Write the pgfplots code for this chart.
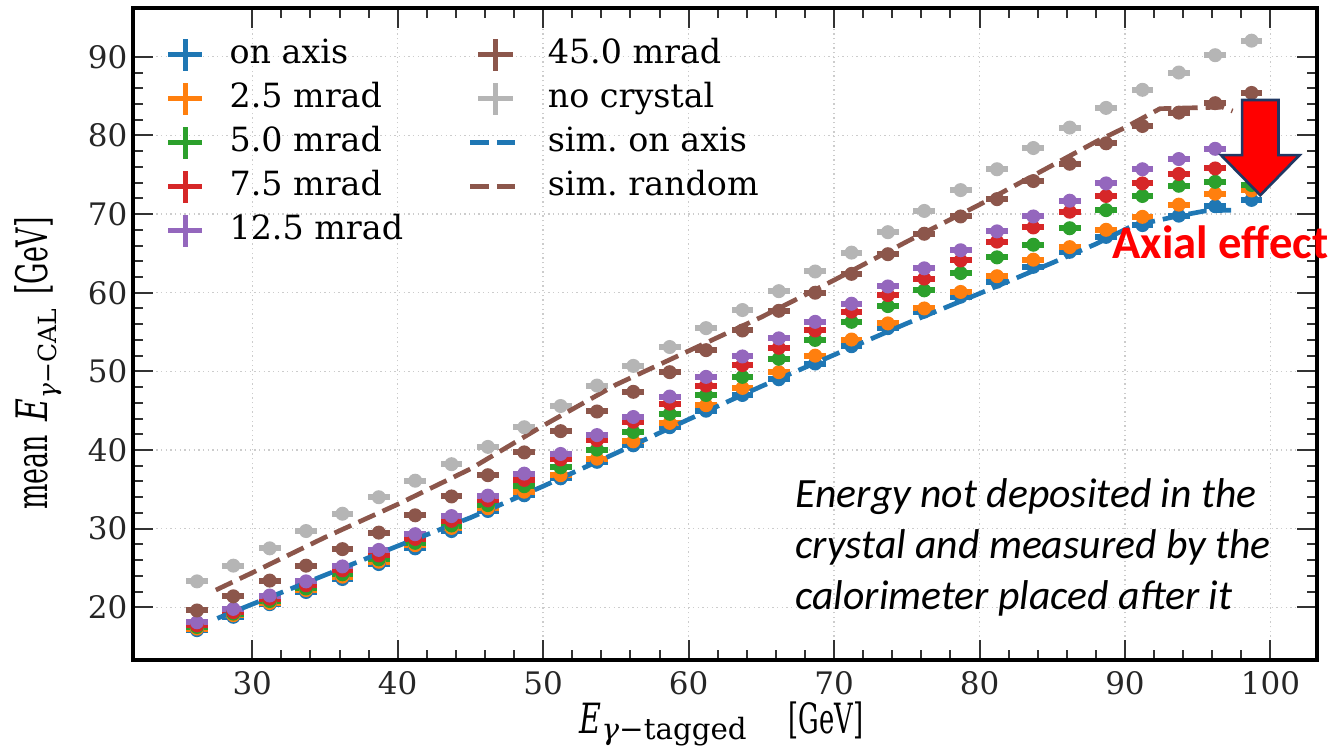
\documentclass[border=0pt]{standalone}
\usepackage{fontspec}
\setmainfont{DejaVu Serif}
\newfontfamily\calibri{Carlito}
\usepackage{graphicx}
\usepackage{pgfplots}
\usepackage{pgfplotstable}
\pgfplotsset{compat=1.18}

\definecolor{tBlue}{HTML}{1F77B4}
\definecolor{tOrange}{HTML}{FF7F0E}
\definecolor{tGreen}{HTML}{2CA02C}
\definecolor{tRed}{HTML}{D62728}
\definecolor{tPurple}{HTML}{9467BD}
\definecolor{tBrown}{HTML}{8C564B}
\definecolor{tGray}{HTML}{B5B5B5}
\definecolor{navy}{HTML}{203864}

\newcommand{\sq}[1]{\scalebox{0.62}[1]{#1}}

% x: E_tagged, then mean E_CAL for each setting
\pgfplotstableread{
x    ax    m25   m50   m75   m125  m450  nocr
26.2 17.1  17.3  17.5  17.7  18.1  19.6  23.3
28.7 18.8  19.0  19.2  19.4  19.8  21.4  25.3
31.2 20.4  20.55 20.8  21.1  21.5  23.4  27.5
33.7 21.95 22.2  22.4  22.8  23.3  25.3  29.7
36.2 23.6  23.9  24.2  24.7  25.2  27.4  31.9
38.7 25.5  25.8  26.1  26.6  27.3  29.5  34.0
41.2 27.5  27.9  28.2  28.7  29.3  31.7  36.1
43.7 29.7  30.1  30.4  31.0  31.6  34.1  38.2
46.2 32.25 32.6  33.0  33.6  34.2  36.8  40.4
48.7 34.25 34.7  35.4  36.2  37.0  39.7  42.9
51.2 36.4  36.8  37.8  38.8  39.5  42.4  45.6
53.7 38.5  38.9  40.06 41.25 41.9  44.9  48.2
56.2 40.6  41.1  42.3  43.6  44.2  47.4  50.7
58.7 42.9  43.45 44.6  45.9  46.8  49.9  53.1
61.2 45.0  45.7  47.0  48.2  49.3  52.7  55.5
63.7 47.0  47.9  49.3  50.8  51.9  55.2  57.8
66.2 49.0  49.9  51.6  53.0  54.2  57.7  60.2
68.7 51.0  52.0  54.0  55.2  56.3  60.0  62.7
71.2 53.2  54.05 56.3  57.6  58.6  62.4  65.1
73.7 55.5  56.1  58.3  59.7  60.8  64.9  67.7
76.2 57.6  58.0  60.3  61.8  63.1  67.5  70.4
78.7 59.5  60.1  62.5  64.1  65.4  69.7  73.05
81.2 61.4  62.1  64.5  66.5  67.8  71.9  75.7
83.7 63.3  64.2  66.1  68.3  69.7  74.2  78.4
86.2 65.2  65.8  68.2  70.3  71.7  76.4  81.0
88.7 67.1  68.0  70.5  72.3  73.9  79.0  83.5
91.2 68.6  69.65 72.3  73.9  75.7  81.2  85.8
93.7 69.8  71.2  73.6  75.1  77.0  82.9  88.0
96.2 71.0  72.6  74.1  75.8  78.3  84.1  90.2
98.7 71.8  73.0  73.7  76.5  79.5  85.4  92.05
}\data

\pgfplotstableread{
x    y
27.6 18.6
30   20.4
35   24.1
40   27.8
45   31.4
50   35.4
55   39.6
60   43.9
65   48.1
70   52.1
75   56.1
80   59.9
85   63.8
88   66.2
90.5 68.5
93.5 69.7
95.5 70.4
97.3 70.5
}\simaxis

\pgfplotstableread{
x    y
27.5 22.2
30   24.4
35   28.9
40   33.1
45   37.6
50   43.1
55   48.3
60   52.6
65   56.9
70   61.6
75   66.5
80   71.2
85   76.2
88   79.2
90   81.0
92.4 83.4
94.4 83.5
96.7 83.6
97.4 83.1
}\simrand

\pgfplotsset{
  dat/.style={color=#1, only marks, mark=*, mark size=1.9pt,
    mark options={solid, fill=#1},
    error bars/x dir=both, error bars/x fixed=0.75,
    error bars/y dir=both, error bars/y fixed=0.7,
    error bars/error mark=none,
    error bars/error bar style={line width=1.8pt, #1},
    legend image code/.code={\draw[#1, line width=1.5pt] (2.4pt,0pt) -- (12.6pt,0pt) (7.5pt,-4.8pt) -- (7.5pt,4.8pt);}},
  sim/.style={color=#1, line width=1.4pt, dash pattern=on 5.5pt off 2.4pt, no markers,
    legend image code/.code={\draw[#1, line width=1.4pt, dash pattern=on 5.5pt off 2.4pt] (0pt,0pt) -- (15pt,0pt);}},
}

\begin{document}
\begin{tikzpicture}
\begin{axis}[
  width=355.2pt, height=195.6pt, scale only axis,
  xmin=21.8, xmax=103.2, ymin=13.3, ymax=96.2,
  xtick={30,40,...,100}, ytick={20,30,...,90}, minor tick num=4,
  tick align=inside, major tick length=6pt, minor tick length=3pt,
  every tick/.style={black!80, line width=0.6pt},
  axis line style={line width=1pt},
  grid=major, major grid style={densely dotted, gray!40, line width=0.4pt},
  ticklabel style={font=\fontsize{9.3}{10}\selectfont, color=black!85},
  /pgf/number format/assume math mode=true,
  yticklabel style={inner xsep=1.5pt},
  clip=false,
  xlabel={\scalebox{0.72}[1]{\textit{E}}\raisebox{-0.3ex}{\fontsize{8.8}{10}\selectfont\textit{γ}−tagged}\hspace{1em}\sq{[GeV]}},
  ylabel={\sq{mean} \scalebox{0.72}[1]{\textit{E}}\raisebox{-0.4ex}{\fontsize{7.5}{8}\selectfont\textit{γ}−CAL} \sq{[GeV]}},
  xlabel style={at={(axis description cs:0.497,-0.098)}, anchor=center, inner sep=0pt, font=\fontsize{12.5}{14}\selectfont},
  ylabel style={at={(axis description cs:-0.080,0.455)}, anchor=center, font=\fontsize{13}{14}\selectfont},
  legend columns=5, transpose legend,
  legend style={at={(axis description cs:0.027,0.963)}, anchor=north west,
    draw=none, fill=none, inner sep=0pt,
    font=\fontsize{10}{11}\selectfont, cells={anchor=west},
    nodes={inner xsep=7.5pt, inner ysep=2.1pt, text height=7pt, text depth=2pt},
    /tikz/every even column/.append style={column sep=12pt}},
]
\addplot[dat=tBlue] table[x=x, y=ax] {\data};
\addlegendentry{on axis}
\addplot[dat=tOrange] table[x=x, y=m25] {\data};
\addlegendentry{2.5 mrad}
\addplot[dat=tGreen] table[x=x, y=m50] {\data};
\addlegendentry{5.0 mrad}
\addplot[dat=tRed] table[x=x, y=m75] {\data};
\addlegendentry{7.5 mrad}
\addplot[dat=tPurple] table[x=x, y=m125] {\data};
\addlegendentry{12.5 mrad}
\addplot[dat=tBrown] table[x=x, y=m450] {\data};
\addlegendentry{45.0 mrad}
\addplot[dat=tGray] table[x=x, y=nocr] {\data};
\addlegendentry{no crystal}
\addplot[sim=tBlue] table {\simaxis};
\addlegendentry{sim.\ on axis}
\addplot[sim=tBrown] table {\simrand};
\addlegendentry{sim.\ random}

\coordinate (a1) at (axis cs:98.05,84.5);
\coordinate (a2) at (axis cs:100.55,84.5);
\coordinate (a3) at (axis cs:100.55,77.5);
\coordinate (a4) at (axis cs:102.0,77.5);
\coordinate (a5) at (axis cs:99.3,72.4);
\coordinate (a6) at (axis cs:96.6,77.5);
\coordinate (a7) at (axis cs:98.05,77.5);
\coordinate (axtxt) at (axis cs:89.1,64.4);
\coordinate (entxt) at (axis cs:67.3,36.4);
\coordinate (bbsw) at (rel axis cs:-0.1123,-0.1304);
\coordinate (bbne) at (rel axis cs:1.0169,1.0123);
\end{axis}
\filldraw[fill=red, draw=navy, line width=0.8pt]
  (a1) -- (a2) -- (a3) -- (a4) -- (a5) -- (a6) -- (a7) -- cycle;
\node[anchor=base west, inner sep=0pt, text=red, font=\calibri\bfseries\fontsize{14}{16}\selectfont]
  at (axtxt) {Axial effect};
\node[anchor=north west, align=left, inner sep=0pt, font=\calibri\itshape\fontsize{12.5}{15.3}\selectfont]
  at (entxt) {Energy not deposited in the\\crystal and measured by the\\calorimeter placed after it};
\pgfresetboundingbox
\useasboundingbox (bbsw) rectangle (bbne);
\end{tikzpicture}
\end{document}
